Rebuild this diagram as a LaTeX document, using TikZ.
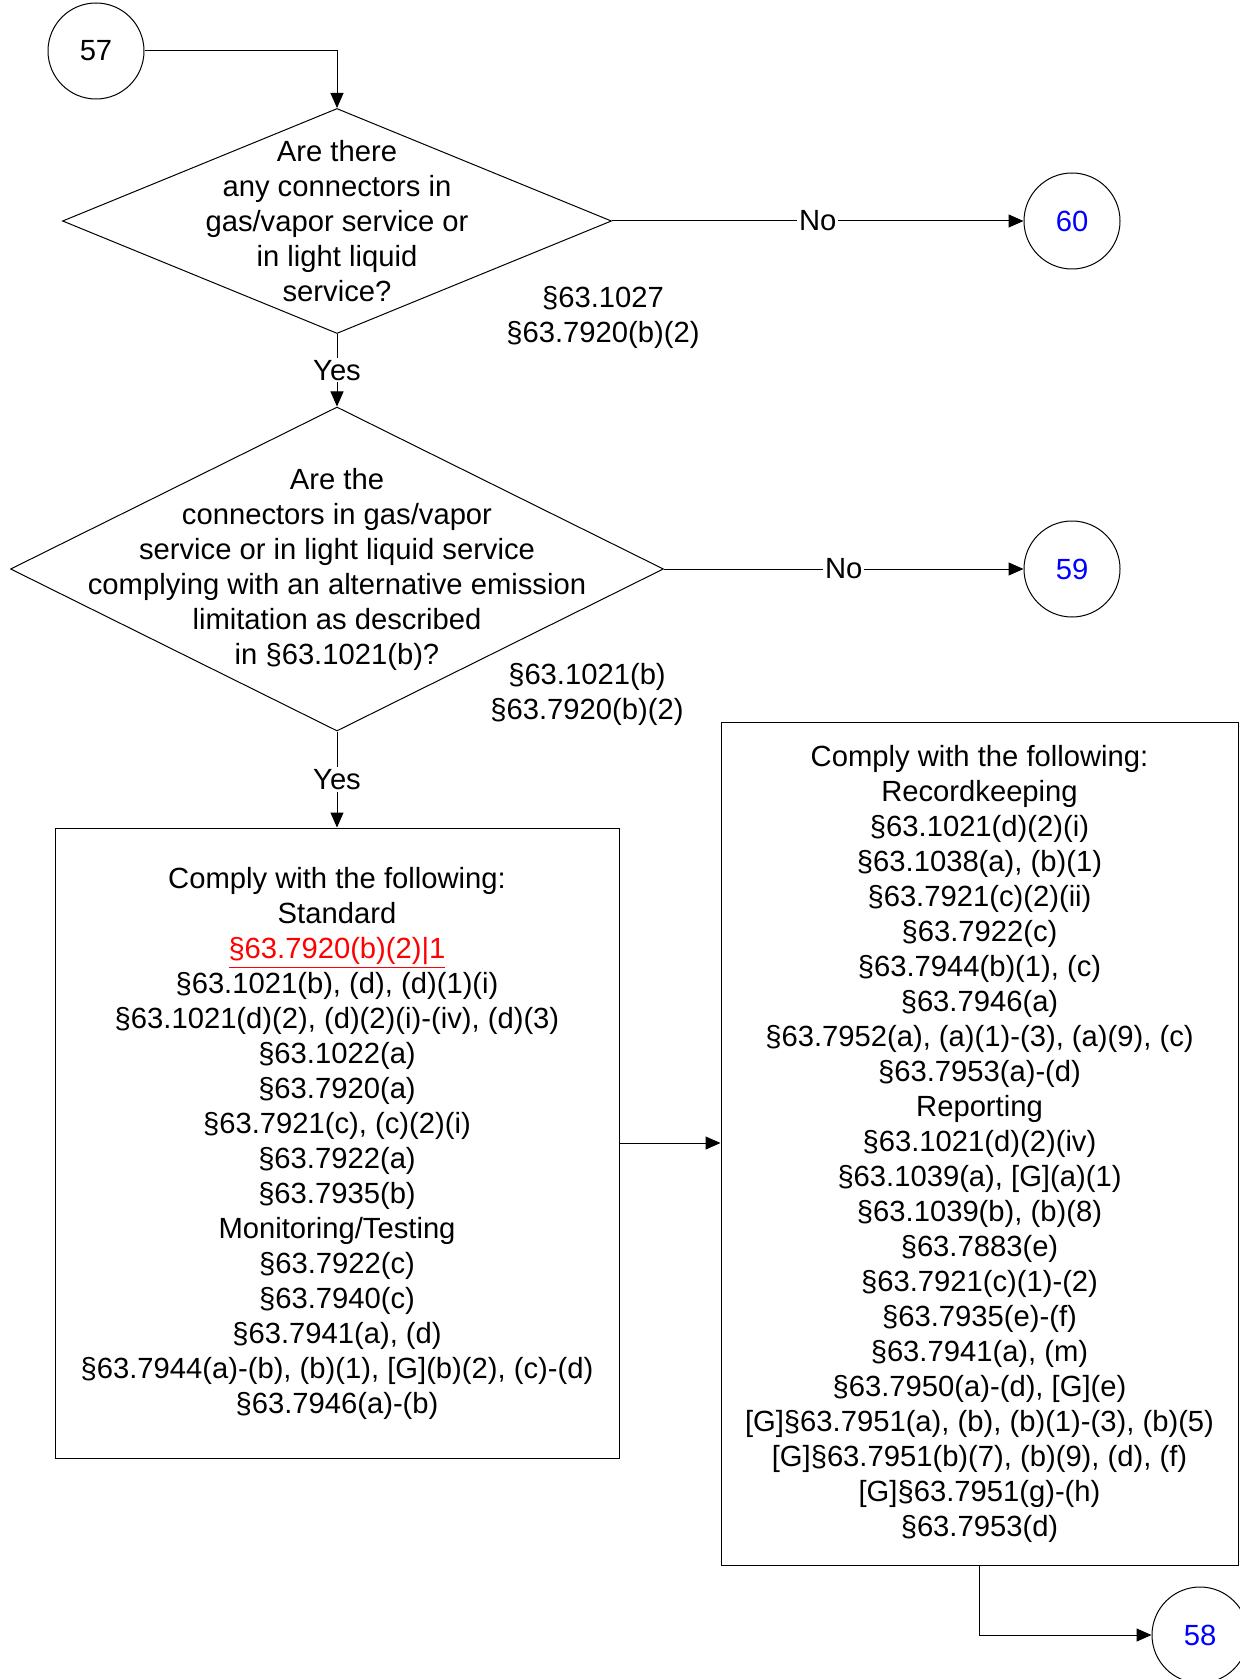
\documentclass[tikz,border=0pt]{standalone}
\usepackage{fontspec}
\setmainfont{Liberation Sans}
\usetikzlibrary{shapes.geometric,arrows.meta}
\begin{document}
\begin{tikzpicture}[x=0.5pt,y=-0.5pt,
  every node/.style={font=\fontsize{14.6}{17.5}\selectfont},
  conn/.style={draw, circle, minimum size=48pt, inner sep=0pt, line width=0.5pt},
  dec/.style={draw, diamond, inner sep=0pt, line width=0.5pt},
  boxnode/.style={draw, rectangle, inner sep=0pt, line width=0.5pt, align=center},
  txt/.style={align=center, inner sep=0pt},
  lbl/.style={fill=white, inner sep=1pt},
  arr/.style={-{Triangle[length=7.5pt,width=6.5pt]}, line width=0.5pt},
  offpage/.style={text=blue}
  ]
\useasboundingbox (0,0) rectangle (1239,1679);

% connectors (circles)
\node[conn] (c57) at (96,51) {57};
\node[conn, offpage] (c60) at (1072,221) {60};
\node[conn, offpage] (c59) at (1072,569) {59};
\node[conn, offpage] (c58) at (1200,1635) {58};

% decisions
\node[dec, minimum width=274.5pt, minimum height=112.5pt] (d1) at (337,221) {};
\node[txt] (d1t) at (d1.center) {Are there\\any connectors in\\gas/vapor service or\\in light liquid\\service?};
\node[txt] (r1) at (603,317) {§63.1027\\§63.7920(b)(2)};

\node[dec, minimum width=326.5pt, minimum height=162pt] (d2) at (337,569) {};
\node[txt] (d2t) at (d2.center) {Are the\\connectors in gas/vapor\\service or in light liquid service\\complying with an alternative emission\\limitation as described\\in §63.1021(b)?};
\node[txt] (r2) at (587,694) {§63.1021(b)\\§63.7920(b)(2)};

% boxes
\node[boxnode, minimum width=282pt, minimum height=315pt] (b1) at (337,1143) {Comply with the following:\\Standard\\\textcolor{red}{\underline{§63.7920(b)(2)|1}}\\§63.1021(b), (d), (d)(1)(i)\\§63.1021(d)(2), (d)(2)(i)-(iv), (d)(3)\\§63.1022(a)\\§63.7920(a)\\§63.7921(c), (c)(2)(i)\\§63.7922(a)\\§63.7935(b)\\Monitoring/Testing\\§63.7922(c)\\§63.7940(c)\\§63.7941(a), (d)\\§63.7944(a)-(b), (b)(1), {[G]}(b)(2), (c)-(d)\\§63.7946(a)-(b)};

\node[boxnode, minimum width=258.5pt, minimum height=421.5pt] (b2) at (979.5,1143.5) {Comply with the following:\\Recordkeeping\\§63.1021(d)(2)(i)\\§63.1038(a), (b)(1)\\§63.7921(c)(2)(ii)\\§63.7922(c)\\§63.7944(b)(1), (c)\\§63.7946(a)\\§63.7952(a), (a)(1)-(3), (a)(9), (c)\\§63.7953(a)-(d)\\Reporting\\§63.1021(d)(2)(iv)\\§63.1039(a), {[G]}(a)(1)\\§63.1039(b), (b)(8)\\§63.7883(e)\\§63.7921(c)(1)-(2)\\§63.7935(e)-(f)\\§63.7941(a), (m)\\§63.7950(a)-(d), {[G]}(e)\\{[G]}§63.7951(a), (b), (b)(1)-(3), (b)(5)\\{[G]}§63.7951(b)(7), (b)(9), (d), (f)\\{[G]}§63.7951(g)-(h)\\§63.7953(d)};

% connectors
\draw[arr] (c57.east) -| (d1.north);
\draw[arr] (d1.east) -- node[lbl] {No} (c60.west);
\draw[arr] (d1.south) -- node[lbl] {Yes} (d2.north);
\draw[arr] (d2.east) -- node[lbl] {No} (c59.west);
\draw[arr] (d2.south) -- node[lbl] {Yes} (b1.north);
\draw[arr] (b1.east) -- (b1.east -| b2.west);
\draw[arr] (b2.south) |- (c58.west);
\end{tikzpicture}
\end{document}
